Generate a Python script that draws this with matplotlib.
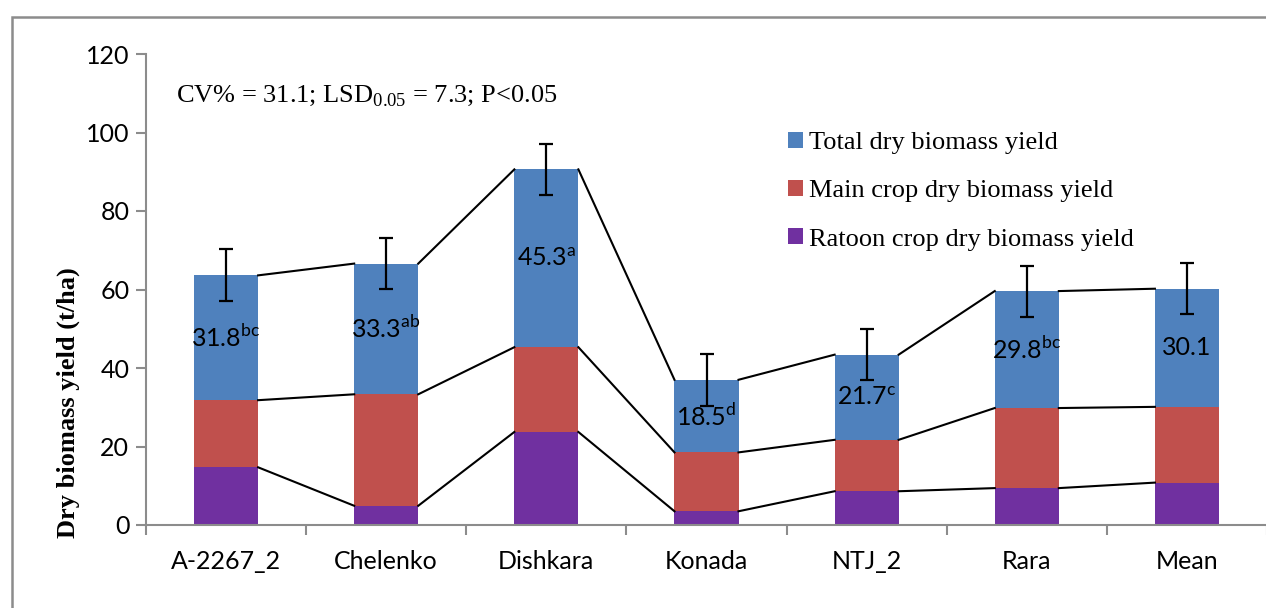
import matplotlib.pyplot as plt
from matplotlib.patches import Rectangle
import numpy as np

# data
varieties = ['A-2267_2', 'Chelenko', 'Dishkara', 'Konada', 'NTJ_2', 'Rara', 'Mean']
ratoon = [14.7, 4.9, 23.7, 3.5, 8.6, 9.4, 10.8]
main_crop = [17.1, 28.4, 21.6, 15.0, 13.1, 20.4, 19.3]
total = [31.8, 33.3, 45.3, 18.5, 21.7, 29.8, 30.1]
total_err = [6.6, 6.5, 6.5, 6.6, 6.5, 6.5, 6.5]
letters = ['bc', 'ab', 'a', 'd', 'c', 'bc', '']

c_total = '#4F81BD'
c_main = '#C0504D'
c_ratoon = '#7030A0'
grey = '#8C8C8C'

fig = plt.figure(figsize=(12.66, 6.08), dpi=100)
ax = fig.add_axes([146 / 1266, 83 / 608, 1121 / 1266, 471 / 608])

x = np.arange(len(varieties))
w = 0.4
ratoon = np.array(ratoon)
main_crop = np.array(main_crop)
total = np.array(total)

b_r = ax.bar(x, ratoon, w, color=c_ratoon, zorder=2)
b_m = ax.bar(x, main_crop, w, bottom=ratoon, color=c_main, zorder=2)
b_t = ax.bar(x, total, w, bottom=ratoon + main_crop, color=c_total, zorder=2)

# series lines between the stacked bars (Excel style)
for tops in [ratoon, ratoon + main_crop, ratoon + main_crop + total]:
    for i in range(len(x) - 1):
        ax.plot([x[i] + w / 2, x[i + 1] - w / 2], [tops[i], tops[i + 1]],
                color='black', lw=1.5, zorder=3)

top_all = ratoon + main_crop + total
ax.errorbar(x, top_all, yerr=total_err, fmt='none', ecolor='black',
            elinewidth=1.6, capsize=5, capthick=1.6, zorder=4)

# labels on the blue segments
for i in range(len(x)):
    if letters[i]:
        s = f'{total[i]:.1f}$^{{\\mathregular{{{letters[i]}}}}}$'
    else:
        s = f'{total[i]:.1f}'
    ax.text(x[i], ratoon[i] + main_crop[i] + total[i] / 2, s, family='Lato',
            fontsize=18, ha='center', va='center', zorder=5)

ax.text(0.027, 107.8, r'CV% = 31.1; LSD$_{\mathregular{0.05}}$ = 7.3; P<0.05',
        transform=ax.get_yaxis_transform(),
        family='Liberation Serif', fontsize=19, va='baseline', ha='left')

ax.set_xlim(-0.5, len(x) - 0.5)
ax.set_ylim(0, 120)
ax.set_yticks(np.arange(0, 121, 20))
ax.set_xticks(x)
ax.set_xticklabels(varieties)
ax.set_xticks(np.arange(-0.5, len(x), 1), minor=True)
ax.tick_params(axis='x', which='major', length=0, pad=18)
ax.tick_params(axis='x', which='minor', length=7, width=1.5, color=grey, direction='out')
ax.tick_params(axis='y', length=7, width=1.5, color=grey, direction='out', pad=5)
for lab in ax.get_xticklabels() + ax.get_yticklabels():
    lab.set_family('Lato')
    lab.set_fontsize(18)

for s in ['top', 'right']:
    ax.spines[s].set_visible(False)
for s in ['left', 'bottom']:
    ax.spines[s].set_color(grey)
    ax.spines[s].set_linewidth(1.5)
ax.spines['bottom'].set_zorder(6)

fig.text(68 / 1266, 1 - 403 / 608, 'Dry biomass yield (t/ha)', rotation=90,
         family='Liberation Serif', weight='bold', fontsize=19,
         ha='center', va='center')

leg = ax.legend([b_t, b_m, b_r],
                ['Total dry biomass yield', 'Main crop dry biomass yield',
                 'Ratoon crop dry biomass yield'],
                loc='upper left', bbox_to_anchor=(788 / 1266, 1 - 132 / 608),
                bbox_transform=fig.transFigure, frameon=False, borderpad=0,
                borderaxespad=0, handlelength=0.55, handleheight=0.55,
                handletextpad=0.25, labelspacing=0.98,
                prop={'family': 'Liberation Serif', 'size': 19})

# outer chart border
fig.patches.append(Rectangle((12 / 1266, -0.1), 1.1, 1 - 17 / 608 + 0.1,
                             transform=fig.transFigure, fill=False,
                             edgecolor=grey, lw=1.8))

fig.savefig('out.png', dpi=100)
